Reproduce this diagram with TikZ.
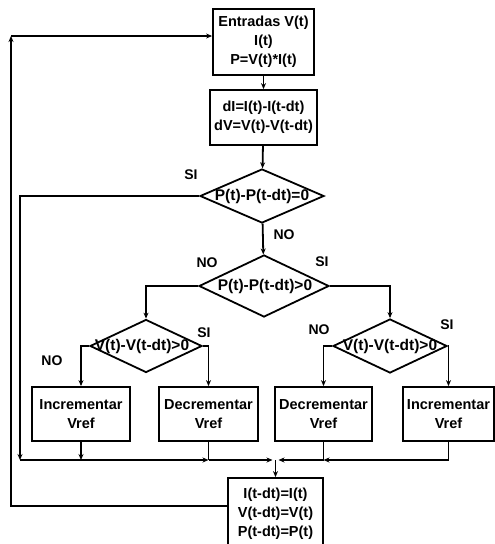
\documentclass[tikz,border=0pt]{standalone}
\usepackage{fontspec}
\setmainfont{Liberation Sans}
\usetikzlibrary{shapes.geometric,arrows.meta}
\begin{document}
\begin{tikzpicture}[x=1pt,y=-1pt,
  font=\fontsize{14.5}{19}\selectfont\bfseries,
  box/.style={draw,line width=1.8pt,inner sep=0pt,align=center,rectangle},
  dia/.style={draw,line width=1.8pt,diamond,inner sep=0pt},
  lbl/.style={inner sep=0pt,font=\fontsize{14}{16}\selectfont\bfseries},
  dlbl/.style={inner sep=0pt,font=\fontsize{15.5}{16}\selectfont\bfseries},
  ln/.style={line width=1.8pt},
  arr/.style={line width=1.8pt,-{Stealth[length=6pt,width=5pt]}}]
\useasboundingbox (0,0) rectangle (495,544);
% boxes
\node[box,minimum width=101,minimum height=66] (top) at (263.5,42) {Entradas V(t)\\I(t)\\P=V(t)*I(t)};
\node[box,minimum width=107,minimum height=55] (calc) at (263.5,117.5) {dI=I(t)-I(t-dt)\\dV=V(t)-V(t-dt)};
% diamonds
\node[dia,minimum width=124,minimum height=54,label={[dlbl]center:P(t)-P(t-dt)=0}] (d1) at (262,196) {};
\node[dia,minimum width=130,minimum height=62,label={[dlbl,xshift=1]center:P(t)-P(t-dt)>0}] (d2) at (264,286) {};
\node[dia,minimum width=112,minimum height=53,label={[dlbl,xshift=-4]center:V(t)-V(t-dt)>0}] (d3) at (146,346) {};
\node[dia,minimum width=114,minimum height=54,label={[dlbl]center:V(t)-V(t-dt)>0}] (d4) at (390,346) {};
% action boxes
\node[box,minimum width=98,minimum height=54] (b1) at (81,414) {Incrementar\\Vref};
\node[box,minimum width=99,minimum height=54] (b2) at (208.5,414) {Decrementar\\Vref};
\node[box,minimum width=97,minimum height=54] (b3) at (323.5,414) {Decrementar\\Vref};
\node[box,minimum width=91,minimum height=54] (b4) at (448.5,414) {Incrementar\\Vref};
\node[box,minimum width=95,minimum height=72] (upd) at (275.5,514) {I(t-dt)=I(t)\\V(t-dt)=V(t)\\P(t-dt)=P(t)};
% junction coordinates
\coordinate (c0) at (20,460);
\coordinate (j1) at (81,460);
\coordinate (j2) at (208.5,460);
\coordinate (jm) at (275.5,460);
\coordinate (j3) at (323.5,460);
\coordinate (j4) at (448.5,460);
\coordinate (lc) at (11,36);
% labels
\node[lbl] (l1) at (191,175) {SI};
\node[lbl] (l2) at (284,235) {NO};
\node[lbl] (l3) at (207,263) {NO};
\node[lbl] (l4) at (322,262) {SI};
\node[lbl] (l5) at (204,333) {SI};
\node[lbl] (l6) at (52,361) {NO};
\node[lbl] (l7) at (319,330) {NO};
\node[lbl] (l8) at (447,325) {SI};
% connectors
\draw[arr] (top) -- (calc);
\draw[arr] (calc) -- (d1);
\draw[arr] (d1) -- (d2);
\draw[arr] (d2.west) -| (d3.north);
\draw[arr] (d2.east) -| (d4.north);
\draw[arr] (d3.west) -| (b1.north);
\draw[arr] (d3.east) -| (b2.north);
\draw[arr] (d4.west) -| (b3.north);
\draw[arr] (d4.east) -| (b4.north);
\draw[arr] (d1.west) -| (c0);
\draw[arr] (b1.south) -- (j1);
\draw[ln] (b2.south) -- (j2);
\draw[ln] (b3.south) -- (j3);
\draw[arr] (c0) -- (j2);
\draw[arr] (j2) -- ([xshift=-3]jm);
\draw[arr] (b4.south) |- (j3);
\draw[arr] (j3) -- ([xshift=3]jm);
\draw[arr] (jm) -- (upd.north);
\draw[arr] ([yshift=8pt]upd.west) -| (lc);
\draw[arr] (lc) -- (top.west |- lc);
\end{tikzpicture}
\end{document}
